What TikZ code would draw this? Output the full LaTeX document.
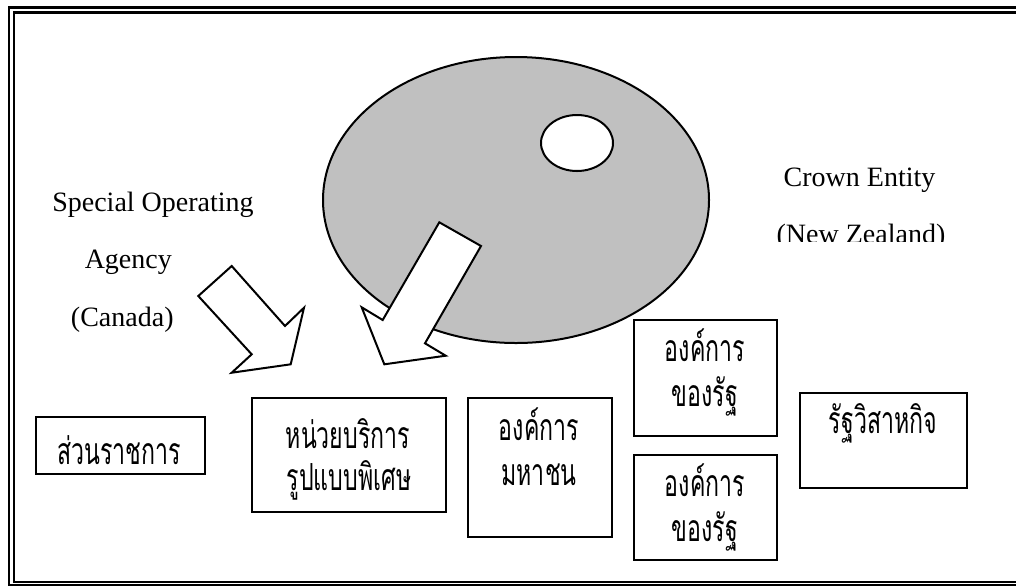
\documentclass[tikz,border=0pt]{standalone}
\usepackage{fontspec}
\setmainfont{Liberation Serif}
\newfontfamily\thai[Script=Thai,FakeStretch=0.62]{Loma}
\definecolor{ellgray}{HTML}{C0C0C0}
\tikzset{
  box/.style={draw=black, line width=1.5pt, fill=white, rectangle, inner sep=0pt},
  thtext/.style={anchor=base, inner sep=0pt, font=\thai\fontsize{28}{32}\selectfont},
  entext/.style={anchor=base, inner sep=0pt, font=\fontsize{21}{24}\selectfont},
  blockarrow/.style={draw=black, line width=1.5pt, fill=white, line join=miter},
}
\begin{document}
\begin{tikzpicture}[x=0.75pt, y=-0.75pt]
\useasboundingbox (0,0) rectangle (1016,587);
\clip (0,0) rectangle (1016,587);
% frame
\draw[line width=2.2pt] (9,7.5) rectangle (1030,585);
\draw[line width=1.6pt] (14,12.5) rectangle (1025,582);
% big ellipse and hole
\draw[fill=ellgray, line width=1.5pt] (516,200) ellipse [x radius=193, y radius=143];
\draw[fill=white, line width=1.5pt] (577,143) ellipse [x radius=36, y radius=28];
% block arrows
\draw[blockarrow] (231.7,266) -- (285,326) -- (304,307.7) -- (290.7,364.3)
   -- (231.7,372.7) -- (251.7,354.3) -- (198.3,296) -- cycle;
\draw[blockarrow] (439.3,222.3) -- (481,246) -- (425,343.3) -- (445.7,355.7)
   -- (384.3,364.3) -- (361.7,307.3) -- (382.7,320) -- cycle;
% English labels
\node[entext] (spo) at (153,211.7) {Special Operating};
\node[entext] (agency) at (128.3,268.3) {Agency};
\node[entext] (canada) at (122.3,326.7) {(Canada)};
\node[entext] (crown) at (859.5,186) {Crown Entity};
\begin{scope}
\clip (700,200) rectangle (1000,241);
\node[entext] (nz) at (861,243) {(New Zealand)};
\end{scope}
% boxes
\node[box, minimum width=126.75pt, minimum height=43.2pt] (b1) at (120.5,445.5) {};
\node[box, minimum width=145pt, minimum height=85.5pt] (b2) at (349,455.3) {};
\node[box, minimum width=107.5pt, minimum height=103.8pt] (b3) at (540,467.5) {};
\node[box, minimum width=106.8pt, minimum height=87pt] (b4) at (705.5,378) {};
\node[box, minimum width=106.8pt, minimum height=78.75pt] (b5) at (705.5,507.5) {};
\node[box, minimum width=125pt, minimum height=71.7pt] (b6) at (883.3,440.5) {};
% Thai texts
\node[thtext] (t1) at (119,464) {ส่วนราชการ};
\node[thtext] (t2a) at (348,448) {หน่วยบริการ};
\node[thtext] (t2b) at (349,490) {รูปแบบพิเศษ};
\node[thtext] (t3a) at (539,440) {องค์การ};
\node[thtext] (t3b) at (539,485) {มหาชน};
\node[thtext] (t4a) at (705,361.7) {องค์การ};
\node[thtext] (t4b) at (705,406.7) {ของรัฐ};
\node[thtext] (t5a) at (705,496.7) {องค์การ};
\node[thtext] (t5b) at (705,541.7) {ของรัฐ};
\node[thtext] (t6) at (883,433.3) {รัฐวิสาหกิจ};
\end{tikzpicture}
\end{document}
